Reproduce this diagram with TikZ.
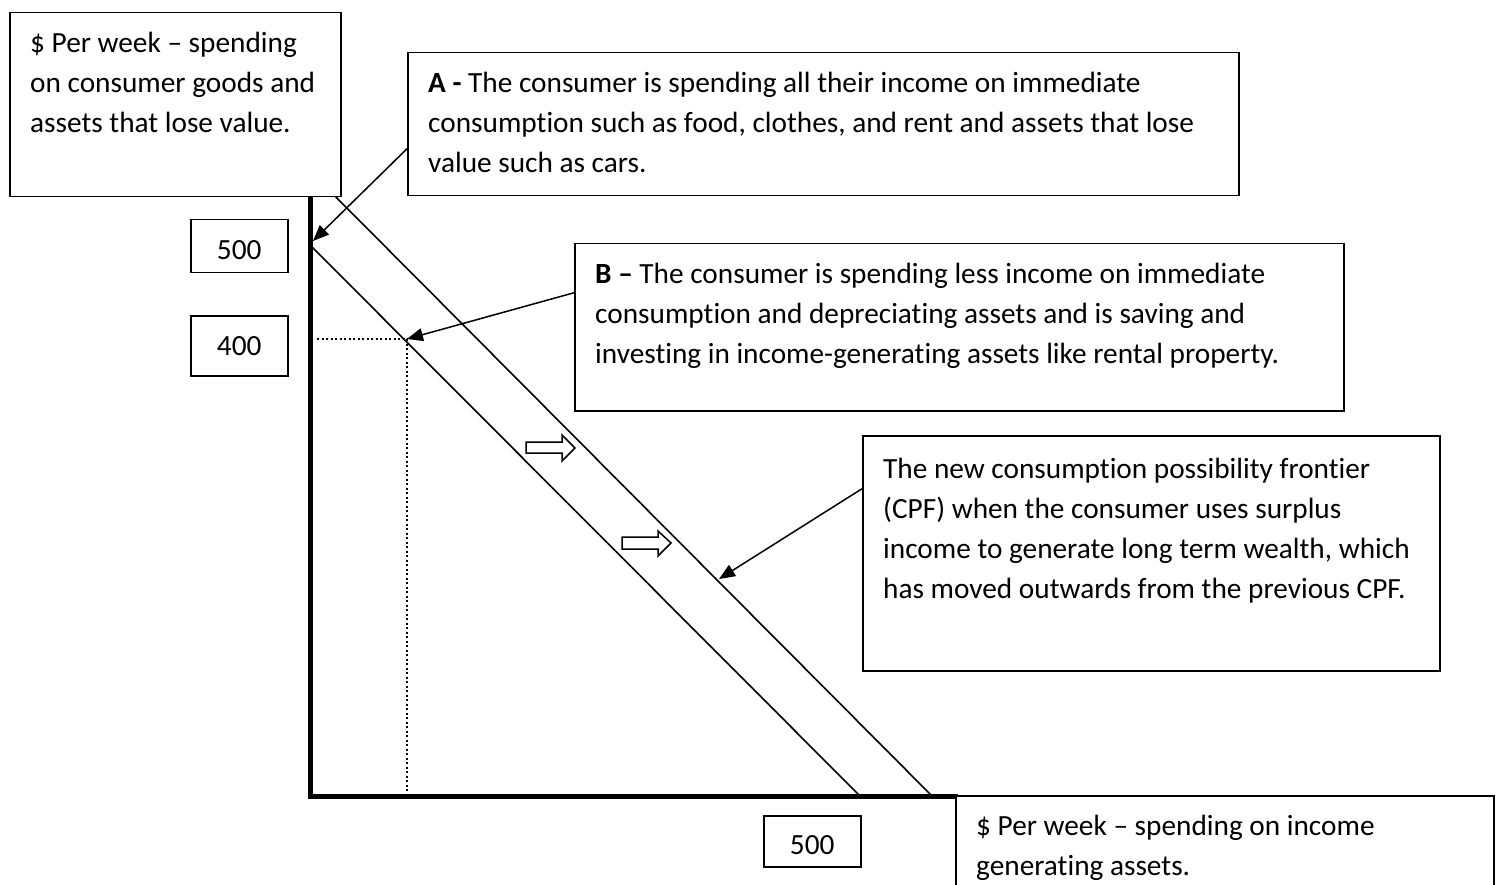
\documentclass[tikz,border=0pt]{standalone}
\usepackage{fontspec}
\setmainfont{Carlito}[Ligatures=NoCommon]
\usetikzlibrary{arrows.meta}
\begin{document}
\begin{tikzpicture}[x=1pt,y=-1pt,
  font={\fontsize{29.3}{40}\selectfont},
  box/.style={draw, line width=1.5pt, fill=white, inner sep=0pt, anchor=north west},
  txt/.style={anchor=north west, inner sep=0pt, align=left},
  numbox/.style={box, minimum width=97pt},
  conn/.style={line width=1.5pt, -{Triangle[length=16pt,width=13pt]}},
  cpf/.style={line width=1.6pt},
  axisline/.style={line width=5pt},
  guide/.style={line width=2pt, dash pattern=on 2pt off 2.5pt},
  hollowarrow/.style={draw, line width=1.5pt, fill=white, line join=miter}
]
\useasboundingbox (0,0) rectangle (1501,885);
\fill[white] (0,0) rectangle (1501,885);

% coordinates
\coordinate (O) at (310,796);
\coordinate (Ytop) at (310,196);
\coordinate (Xend) at (1103,796);
\coordinate (Xthick) at (955,796);
\coordinate (in1) at (310,245);
\coordinate (in2) at (860,796);
\coordinate (out1) at (310,171);
\coordinate (out2) at (932,796);
\coordinate (B) at (407,339);
\coordinate (Byax) at (317,339);
\coordinate (Bxax) at (407,796);
\coordinate (Atip) at (313,241);
\coordinate (Ctip) at (719,579);

% CPF lines
\draw[cpf] (in1) -- (in2);
\draw[cpf] (out1) -- (out2);

% dotted guides
\draw[guide] (Byax) -- (B) -- (Bxax);

% axes
\draw[line width=2pt] (Xthick) -- (Xend);
\draw[axisline, line cap=rect] (Ytop) -- (O) -- (Xthick);

% shift arrows
\draw[hollowarrow] (526,442) -- (562,442) -- (562,435) -- (575,448) -- (562,461) -- (562,453) -- (526,453) -- cycle;
\draw[hollowarrow] (622,537) -- (658,537) -- (658,531) -- (671,543) -- (658,556) -- (658,549) -- (622,549) -- cycle;

% boxes
\node[box, minimum width=331pt, minimum height=184pt] (tl) at (9,12) {};
\node[txt] (tlt) at (30,22) {\rule{0pt}{30pt}\$ Per week – spending\\on consumer goods and\\assets that lose value.};

\node[box, minimum width=831pt, minimum height=143pt] (boxA) at (407,52) {};
\node[txt] (At) at (428,62) {\rule{0pt}{30pt}\textbf{A -} The consumer is spending all their income on immediate\\consumption such as food, clothes, and rent and assets that lose\\value such as cars.};

\node[box, minimum width=769pt, minimum height=167pt] (boxB) at (574,243) {};
\node[txt] (Bt) at (595,253) {\rule{0pt}{30pt}\textbf{B –} The consumer is spending less income on immediate\\consumption and depreciating assets and is saving and\\investing in income-generating assets like rental property.};

\node[box, minimum width=577pt, minimum height=235pt] (boxC) at (862,435) {};
\node[txt] (Ct) at (883,448) {\rule{0pt}{30pt}The new consumption possibility frontier\\(CPF) when the consumer uses surplus\\income to generate long term wealth, which\\has moved outwards from the previous CPF.};

\node[box, minimum width=538pt, minimum height=100pt] (boxX) at (955,795) {};
\node[txt] (Xt) at (976,805) {\rule{0pt}{30pt}\$ Per week – spending on income\\generating assets.};

\node[numbox, minimum height=53pt, text height=27pt, text depth=0pt] (y500) at (190,219) {500};
\node[numbox, minimum height=60pt] (y400) at (190,315) {400};
\node[numbox, minimum height=51pt, text height=27pt, text depth=0pt] (x500) at (763,815) {500};

% connectors
\draw[conn] ([yshift=-24.5pt]boxA.west) -- (Atip);
\draw[conn] ([yshift=34.5pt]boxB.west) -- (B);
\draw[conn] ([yshift=64.5pt]boxC.west) -- (Ctip);
\end{tikzpicture}
\end{document}
